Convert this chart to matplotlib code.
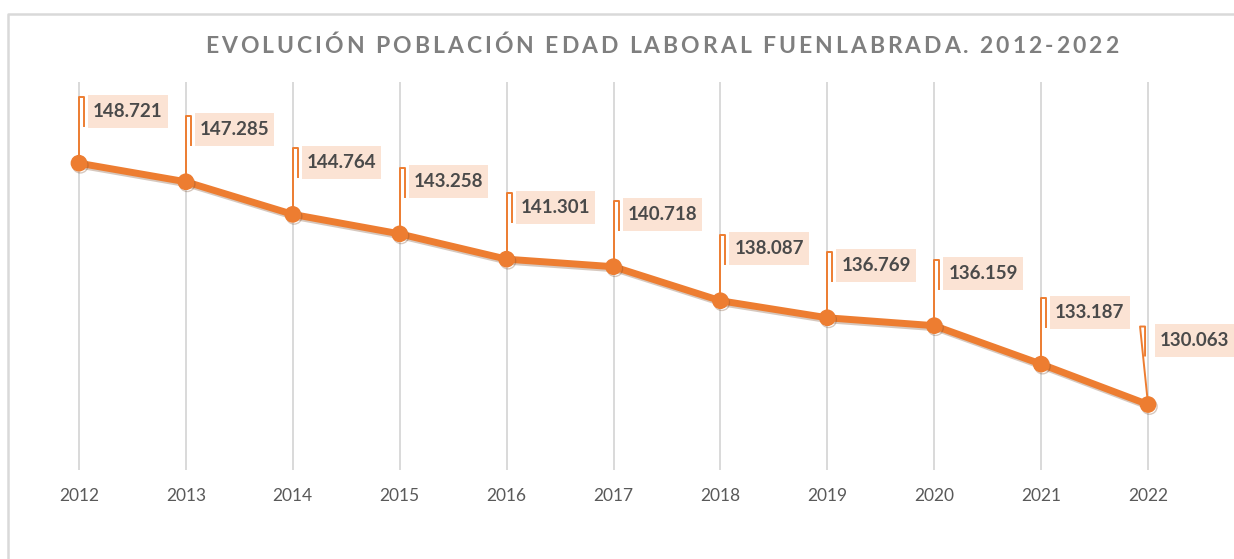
import matplotlib
matplotlib.use("Agg")
import matplotlib.pyplot as plt
import matplotlib.patheffects as pe
from matplotlib.lines import Line2D
from matplotlib.patches import Rectangle
from matplotlib.transforms import IdentityTransform

years = [2012, 2013, 2014, 2015, 2016, 2017, 2018, 2019, 2020, 2021, 2022]
poblacion = [148721, 147285, 144764, 143258, 141301, 140718,
             138087, 136769, 136159, 133187, 130063]
titulo = "EVOLUCIÓN POBLACIÓN EDAD LABORAL FUENLABRADA. 2012-2022"

ORANGE = "#ED7D31"
GRID = "#d9d9d9"
TEXT = "#595959"
W, H = 1234, 559

fig = plt.figure(figsize=(W / 100, H / 100), dpi=100)
ax = fig.add_axes([25.5 / W, 1 - 470 / H, 1176 / W, 388 / H])
xs = list(range(len(years)))
ax.set_xlim(-0.5, len(years) - 0.5)
ax.set_ylim(125000, 155000)

ax.set_xticks(xs)
ax.set_xticklabels([str(y) for y in years], fontfamily="Lato", fontsize=12.5, color=TEXT)
ax.set_yticks([])
ax.tick_params(axis="x", length=0, pad=13)
ax.grid(axis="x", color=GRID, lw=1.4)
for s in ax.spines.values():
    s.set_visible(False)

ax.plot(xs, poblacion, color=ORANGE, lw=5, marker="o", ms=11,
        solid_joinstyle="round", zorder=5,
        path_effects=[pe.SimpleLineShadow(offset=(1, -1.5), alpha=0.3, shadow_color="#7a4a2a"),
                      pe.Normal()])

renderer = fig.canvas.get_renderer()

# etiquetas con línea guía
ident = IdentityTransform()
for i, v in enumerate(poblacion):
    px, py = ax.transData.transform((i, v))
    if i == len(poblacion) - 1:
        dxt, dyl, box_left = -8, 64, px + 7
    else:
        dxt, dyl, box_left = 0, 52, px + 9
    cy = py + dyl
    lx = [px, px + dxt, px + dxt + 5, px + dxt + 5]
    ly = [py, cy + 14, cy + 14, cy - 15]
    ax.add_line(Line2D(lx, ly, transform=ident, color=ORANGE, lw=1.4,
                       clip_on=False, zorder=3))
    etiqueta = f"{v:,}".replace(",", ".")
    t = ax.text(box_left + 5, cy, etiqueta, transform=ident, ha="left", va="center",
                fontfamily="Lato", fontweight="bold", fontsize=13.5, color="#4a4a4a",
                clip_on=False, zorder=4)
    ext = t.get_window_extent(renderer)
    ax.add_patch(Rectangle((box_left, cy - 16.5), ext.width + 10, 33, transform=ident,
                           fc="#fbe3d4", ec="none", clip_on=False, zorder=3.5))

# marco del gráfico
fig.add_artist(Line2D([8, 8, W], [0, H - 14, H - 14], transform=ident,
                      color=GRID, lw=1.8))

# título con espaciado entre letras
tkw = dict(fontfamily="Lato", fontweight="bold", fontsize=16.5, color="#7f7f7f")


def ancho(s):
    t = fig.text(0, 0, "|" + s + "|", transform=ident, **tkw)
    w = t.get_window_extent(renderer).width
    t.remove()
    return w


base = ancho("")
natural = ancho(titulo) - base
x0, x1 = 205, 1118
esp = ((x1 - x0) - natural) / (len(titulo) - 1)
for k, ch in enumerate(titulo):
    xk = x0 + (ancho(titulo[:k]) - base) + k * esp
    fig.text(xk, H - 53, ch, transform=ident, ha="left", va="baseline", **tkw)

fig.savefig("out.png", dpi=100)
